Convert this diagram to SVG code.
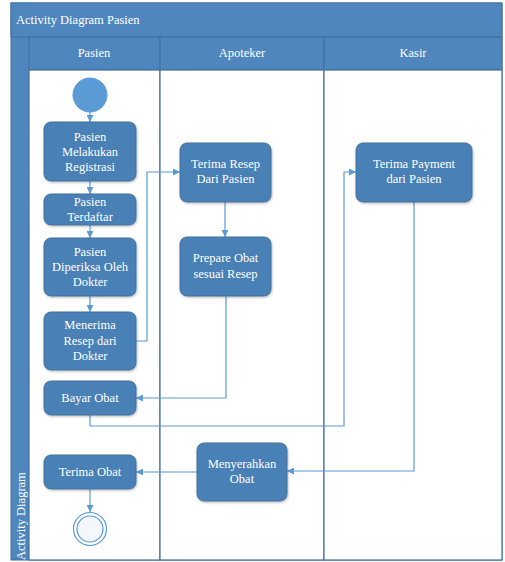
<svg xmlns="http://www.w3.org/2000/svg" width="505" height="562" viewBox="0 0 505 562">
<defs>
<style>
.hdr{fill:#4f86bd;stroke:#41719c;stroke-width:1}
.lane{fill:#ffffff;stroke:#41719c;stroke-width:1.2}
.node{fill:#4a80b6;stroke:#41719c;stroke-width:1;filter:url(#sh)}
.t{font-family:"Liberation Serif","Times New Roman",serif;font-size:12.5px;fill:#ffffff;text-anchor:middle}
.tl{font-family:"Liberation Serif","Times New Roman",serif;font-size:12.5px;fill:#ffffff}
.c{fill:none;stroke:#5b9bd5;stroke-width:1.2}
</style>
<filter id="sh" x="-10%" y="-10%" width="130%" height="130%">
<feDropShadow dx="0.8" dy="1.2" stdDeviation="1" flood-color="#000000" flood-opacity="0.25"/>
</filter>
<marker id="ah" viewBox="0 0 10 10" refX="10" refY="5" markerWidth="7" markerHeight="7" markerUnits="userSpaceOnUse" orient="auto">
<path d="M0,0 L10,5 L0,10 z" fill="#5b9bd5"/>
</marker>
</defs>
<rect x="0" y="0" width="505" height="562" fill="#ffffff"/>
<g id="frame">
<rect class="hdr" x="11" y="3" width="491" height="557"/>
<rect class="hdr" x="11" y="3" width="491" height="34"/>
<text class="tl" x="16" y="24">Activity Diagram Pasien</text>
<text class="tl" transform="translate(25,560) rotate(-90)">Activity Diagram</text>
</g>
<g id="lane-pasien">
<rect class="hdr" x="29" y="37" width="131" height="33"/>
<rect class="lane" x="29" y="70" width="131" height="490"/>
<text class="t" x="94" y="57">Pasien</text>
</g>
<g id="lane-apoteker">
<rect class="hdr" x="160" y="37" width="164" height="33"/>
<rect class="lane" x="160" y="70" width="164" height="490"/>
<text class="t" x="242" y="57">Apoteker</text>
</g>
<g id="lane-kasir">
<rect class="hdr" x="324" y="37" width="178" height="33"/>
<rect class="lane" x="324" y="70" width="178" height="490"/>
<text class="t" x="413" y="57">Kasir</text>
</g>
<g id="connectors">
<path class="c" d="M90,112 L90,122" marker-end="url(#ah)"/>
<path class="c" d="M90,181 L90,194" marker-end="url(#ah)"/>
<path class="c" d="M90,225 L90,238" marker-end="url(#ah)"/>
<path class="c" d="M90,296 L90,312" marker-end="url(#ah)"/>
<path class="c" d="M136,341 L147,341 L147,172 L180,172" marker-end="url(#ah)"/>
<path class="c" d="M225,202 L225,237" marker-end="url(#ah)"/>
<path class="c" d="M226,296 L226,398 L136,398" marker-end="url(#ah)"/>
<path class="c" d="M90,415 L90,426 L344,426 L344,172 L356,172" marker-end="url(#ah)"/>
<path class="c" d="M414,202 L414,471 L287,471" marker-end="url(#ah)"/>
<path class="c" d="M197,472 L136,472" marker-end="url(#ah)"/>
<path class="c" d="M90,489 L90,512" marker-end="url(#ah)"/>
</g>
<g id="start">
<circle cx="90" cy="95" r="17" fill="#5b9bd5" stroke="#5b9bd5"/>
</g>
<g id="n-registrasi">
<rect class="node" x="44" y="122" width="92" height="59" rx="7"/>
<text class="t" x="90" y="141">Pasien</text>
<text class="t" x="90" y="156">Melakukan</text>
<text class="t" x="90" y="171">Registrasi</text>
</g>
<g id="n-terdaftar">
<rect class="node" x="44" y="194" width="92" height="31" rx="7"/>
<text class="t" x="90" y="206">Pasien</text>
<text class="t" x="90" y="221">Terdaftar</text>
</g>
<g id="n-diperiksa">
<rect class="node" x="44" y="238" width="92" height="58" rx="7"/>
<text class="t" x="90" y="256">Pasien</text>
<text class="t" x="90" y="271">Diperiksa Oleh</text>
<text class="t" x="90" y="286">Dokter</text>
</g>
<g id="n-menerima">
<rect class="node" x="44" y="312" width="92" height="58" rx="7"/>
<text class="t" x="90" y="329">Menerima</text>
<text class="t" x="90" y="345">Resep dari</text>
<text class="t" x="90" y="360">Dokter</text>
</g>
<g id="n-bayar">
<rect class="node" x="44" y="381" width="92" height="34" rx="7"/>
<text class="t" x="90" y="402">Bayar Obat</text>
</g>
<g id="n-terimaobat">
<rect class="node" x="44" y="455" width="92" height="34" rx="7"/>
<text class="t" x="90" y="476">Terima Obat</text>
</g>
<g id="end">
<circle cx="90" cy="529" r="16.5" fill="#ffffff" stroke="#5b9bd5" stroke-width="1.2"/>
<circle cx="90" cy="529" r="13" fill="#f4f7fb" stroke="#5b9bd5" stroke-width="1.2"/>
</g>
<g id="n-terimaresep">
<rect class="node" x="180" y="143" width="91" height="59" rx="7"/>
<text class="t" x="225.5" y="168">Terima Resep</text>
<text class="t" x="225.5" y="183">Dari Pasien</text>
</g>
<g id="n-prepare">
<rect class="node" x="180" y="237" width="91" height="59" rx="7"/>
<text class="t" x="225.5" y="262">Prepare Obat</text>
<text class="t" x="225.5" y="278">sesuai Resep</text>
</g>
<g id="n-menyerahkan">
<rect class="node" x="197" y="443" width="90" height="58" rx="7"/>
<text class="t" x="242" y="468">Menyerahkan</text>
<text class="t" x="242" y="483">Obat</text>
</g>
<g id="n-payment">
<rect class="node" x="356" y="143" width="116" height="59" rx="7"/>
<text class="t" x="414" y="168">Terima Payment</text>
<text class="t" x="414" y="183">dari Pasien</text>
</g>
</svg>
